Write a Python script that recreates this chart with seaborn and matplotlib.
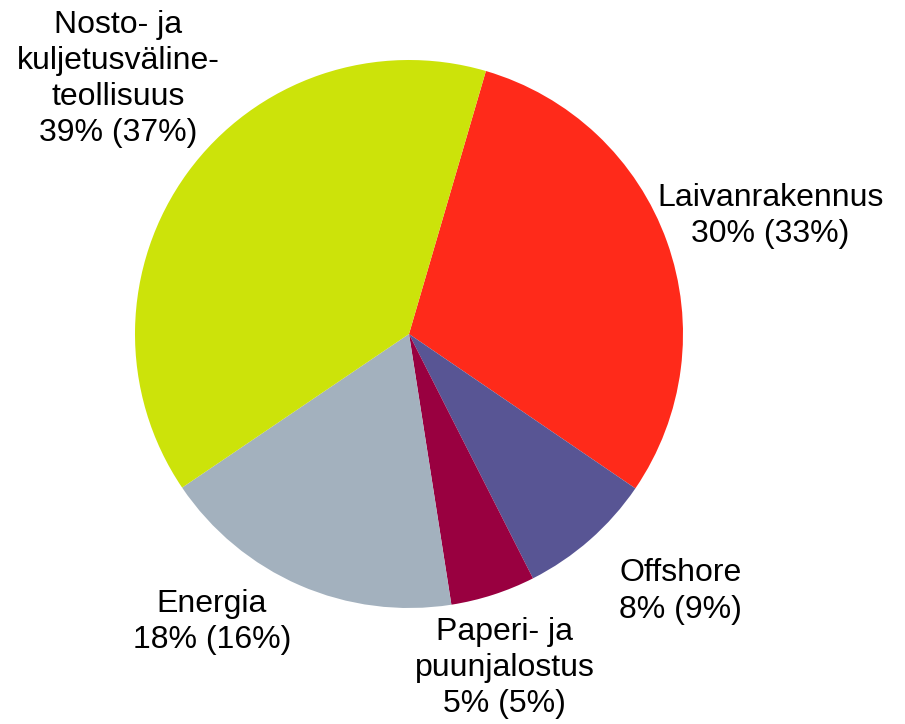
import matplotlib

matplotlib.use("Agg")
import matplotlib.pyplot as plt  # noqa: E402
import seaborn as sns  # noqa: E402

sns.set_theme(style="white")
plt.rcParams["font.family"] = ["Liberation Sans", "DejaVu Sans"]

# Data (clockwise from the top)
categories = ["Laivanrakennus", "Offshore", "Paperi- ja\npuunjalostus",
              "Energia", "Nosto- ja\nkuljetusväline-\nteollisuus"]
shares = [30, 8, 5, 18, 39]
previous = [33, 9, 5, 16, 37]
colors = ["#FF2A1A", "#585594", "#990040", "#A3B1BE", "#CCE30A"]

# Label anchors in data units (pie radius = 1)
label_pos = [(1.32, 0.43), (0.99, -0.94), (0.35, -1.22),
             (-0.72, -1.05), (-1.06, 0.93)]

fig = plt.figure(figsize=(9.05, 7.24), dpi=100)
ax = fig.add_axes([0, 0, 1, 1])

R = 274.0  # pixels per data unit
cx, cy = 409.0, 334.0
ax.pie(shares, colors=colors, startangle=73.7, counterclock=False,
       radius=1.0, wedgeprops=dict(linewidth=0))

for name, s, p, (x, y) in zip(categories, shares, previous, label_pos):
    ax.text(x, y, f"{name}\n{s}% ({p}%)", ha="center", va="center",
            fontsize=23, linespacing=1.27, color="black")

ax.set_xlim(-cx / R, (905 - cx) / R)
ax.set_ylim(-(724 - cy) / R, cy / R)
ax.set_aspect("equal")
ax.axis("off")

fig.savefig("out.png", dpi=100)
